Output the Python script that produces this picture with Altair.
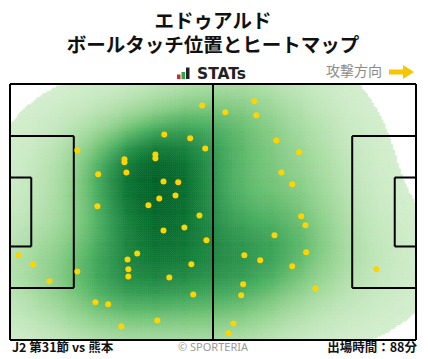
import numpy as np
import pandas as pd
import altair as alt

# ---- data (metres, x along pitch 0-105 left->right, y 0-68 from top) ----
touch_x = [49.7, 39.9, 46.6, 50.5, 17.4, 29.6, 29.6, 37.6, 37.6, 22.8, 30.1, 39.7,
           43.5, 42.8, 38.6, 35.8, 22.6, 49.0, 39.7, 45.1, 50.8, 32.9, 30.4, 30.6,
           30.6, 2.2, 6.0, 10.2, 17.4, 46.9, 41.2, 47.4, 22.1, 25.4, 38.1, 28.8,
           63.2, 55.7, 63.7, 68.9, 74.8, 70.2, 73.0, 75.3, 76.4, 68.4, 60.6, 64.7,
           76.6, 73.0, 60.3, 59.8, 79.0, 94.7, 57.8, 56.5]
touch_y = [5.7, 13.4, 14.4, 17.1, 17.6, 20.0, 20.8, 18.7, 19.7, 24.0, 23.5, 25.9,
           26.1, 29.6, 30.4, 32.2, 32.5, 34.9, 38.9, 38.1, 41.5, 45.0, 46.6, 49.2,
           51.1, 45.5, 47.9, 52.4, 49.8, 47.9, 51.4, 55.9, 58.0, 58.5, 62.8, 64.4,
           4.6, 7.5, 8.3, 15.0, 18.1, 23.5, 26.6, 35.1, 37.5, 40.2, 45.5, 46.8,
           44.7, 48.4, 53.2, 56.1, 54.3, 49.2, 63.6, 66.2]

pitch_length = 105
pitch_width = 68
penalty_depth = 16.5
penalty_top = 13.84
goal_depth = 5.5
goal_top = 24.84

title_lines = ["エドゥアルド", "ボールタッチ位置とヒートマップ"]
logo_text = "STATs"
direction_text = "攻撃方向"
match_text = "J2 第31節 vs 熊本"
credit_text = "© SPORTERIA"
minutes_text = "出場時間：88分"

L, W = pitch_length, pitch_width

# ---- kernel density of the touches (Scott bandwidth), iso-proportion levels ----
bw_adjust = 1.2
pts = np.vstack([touch_x, touch_y])
n = pts.shape[1]
cov = np.cov(pts) * n ** (-2.0 / 6.0) * bw_adjust ** 2
inv = np.linalg.inv(cov)


def kde(gxy):
    diff = gxy[:, None, :] - pts.T[None, :, :]
    m = np.einsum("gni,ij,gnj->gn", diff, inv, diff)
    return np.exp(-0.5 * m).sum(1)


# wide grid for normalising the probability mass
ex = np.arange(-50.5, L + 50, 1.0)
ey = np.arange(-50.5, W + 50, 1.0)
egx, egy = np.meshgrid(ex, ey)
eg = np.stack([egx.ravel(), egy.ravel()], 1)
ed = kde(eg)
order = np.sort(ed)
cum = np.cumsum(order) / order.sum()      # mass of cells with density <= value

step = 0.5
cx = np.arange(step / 2, L, step)
cy = np.arange(step / 2, W, step)
gx, gy = np.meshgrid(cx, cy)
grid = np.stack([gx.ravel(), gy.ravel()], 1)
dens = kde(grid)
prop = np.interp(dens, order, cum)        # proportion of mass below this density
thr = 0.02
heat = pd.DataFrame({
    "x0": np.round(grid[:, 0] - step / 2, 2),
    "y0": np.round(grid[:, 1] - step / 2, 2),
    "p": np.round(prop, 4),
})
heat = heat[heat["p"] >= thr]

# ---- pitch markings ----
segs = [
    (0, 0, L, 0), (L, 0, L, W), (0, W, L, W), (0, 0, 0, W),
    (L / 2, 0, L / 2, W),
    (0, penalty_top, penalty_depth, penalty_top),
    (penalty_depth, penalty_top, penalty_depth, W - penalty_top),
    (0, W - penalty_top, penalty_depth, W - penalty_top),
    (0, goal_top, goal_depth, goal_top),
    (goal_depth, goal_top, goal_depth, W - goal_top),
    (0, W - goal_top, goal_depth, W - goal_top),
    (L, penalty_top, L - penalty_depth, penalty_top),
    (L - penalty_depth, penalty_top, L - penalty_depth, W - penalty_top),
    (L, W - penalty_top, L - penalty_depth, W - penalty_top),
    (L, goal_top, L - goal_depth, goal_top),
    (L - goal_depth, goal_top, L - goal_depth, W - goal_top),
    (L, W - goal_top, L - goal_depth, W - goal_top),
]
lines = pd.DataFrame(segs, columns=["x0", "y0", "x1", "y1"])
touches = pd.DataFrame({"x": touch_x, "y": touch_y})

xs = alt.Scale(domain=[0, L], nice=False, zero=False)
ys = alt.Scale(domain=[0, W], nice=False, zero=False, reverse=True)
cs = alt.Scale(scheme="greens", domain=[thr, 1])

heat_layer = alt.Chart(heat).transform_calculate(
    x1=f"datum.x0 + {step}", y1=f"datum.y0 + {step}"
).mark_rect(strokeWidth=0.5).encode(
    x=alt.X("x0:Q", scale=xs, axis=None), x2="x1:Q",
    y=alt.Y("y0:Q", scale=ys, axis=None), y2="y1:Q",
    color=alt.Color("p:Q", scale=cs, legend=None),
    stroke=alt.Stroke("p:Q", scale=cs, legend=None),
)

line_layer = alt.Chart(lines).mark_rule(color="black", strokeWidth=2).encode(
    x=alt.X("x0:Q", scale=xs, axis=None), x2="x1:Q",
    y=alt.Y("y0:Q", scale=ys, axis=None), y2="y1:Q",
)

point_layer = alt.Chart(touches).mark_circle(size=36, color="#ffd400", opacity=1).encode(
    x=alt.X("x:Q", scale=xs, axis=None),
    y=alt.Y("y:Q", scale=ys, axis=None),
)

JP = "Noto Sans CJK JP"


def txt(s, x, y, **kw):
    return alt.Chart(alt.Data(values=[{"t": s}])).mark_text(**kw).encode(
        text="t:N", x=alt.value(x), y=alt.value(y))


texts = [
    txt(title_lines[0], 203, -62.5, font=JP, fontSize=19.5, fontWeight="bold", color="#111"),
    txt(title_lines[1], 203, -38.5, font=JP, fontSize=19.5, fontWeight="bold", color="#111"),
    txt(logo_text, 187, -10.5, font="DejaVu Sans", fontSize=15.5, fontWeight="bold",
        color="#222", align="left"),
    txt(direction_text, 344, -12.5, font=JP, fontSize=14, color="#8a8a8a"),
    txt(match_text, 2, 264, font=JP, fontSize=12.5, fontWeight="bold", color="#111", align="left"),
    txt(credit_text, 203, 264, font="Noto Sans", fontSize=11, color="#999999"),
    txt(minutes_text, 407, 264, font=JP, fontSize=12.5, fontWeight="bold", color="#111", align="right"),
]


def box(x1, x2, y1, y2, color):
    return alt.Chart(alt.Data(values=[{}])).mark_rect(color=color).encode(
        x=alt.value(x1), x2=alt.value(x2), y=alt.value(y1), y2=alt.value(y2))


icon = [
    box(167, 170.5, -9.5, -5, "#d8262d"),
    box(171.5, 175, -12, -5, "#2aa845"),
    box(176, 179.5, -16.5, -5, "#222222"),
]

arrow_path = "M-1,-0.2L0.12,-0.2L0.12,-0.56L1,0L0.12,0.56L0.12,0.2L-1,0.2Z"
arrow = alt.Chart(alt.Data(values=[{}])).mark_point(
    shape=arrow_path, filled=True, size=625, color="#f7c600", opacity=1, strokeWidth=0
).encode(x=alt.value(391.5), y=alt.value(-12))

chart = alt.layer(heat_layer, line_layer, point_layer, *texts, *icon, arrow).properties(
    width=406, height=256,
    padding={"left": 2, "top": 76, "right": 4, "bottom": 15},
    autosize=alt.AutoSizeParams(type="none"),
    background="white",
).configure_view(stroke=None)

chart.save("out.html", embed_options={"renderer": "svg", "actions": False})
